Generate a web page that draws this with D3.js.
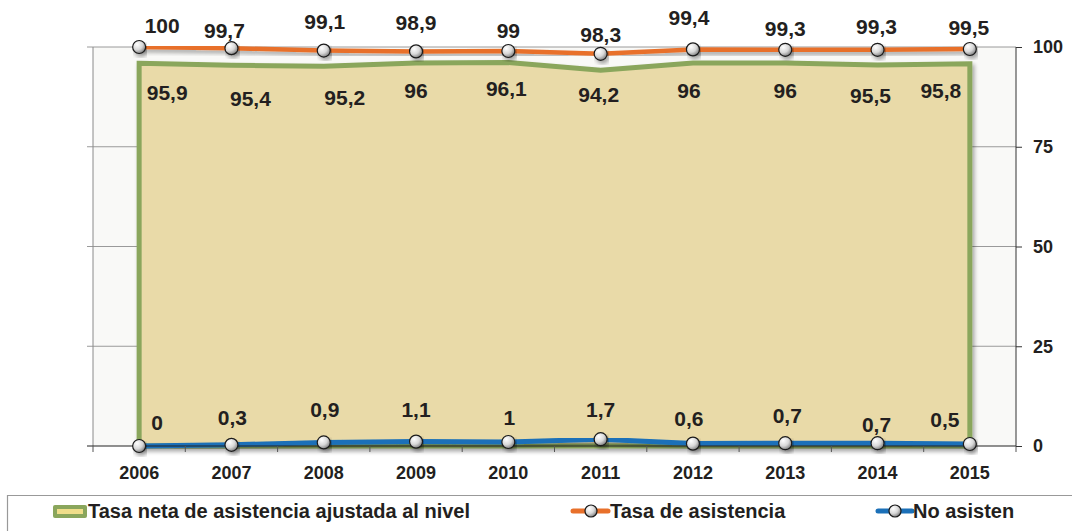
<!DOCTYPE html>
<html>
<head>
<meta charset="utf-8">
<script src="https://cdn.jsdelivr.net/npm/d3@7/dist/d3.min.js"></script>
<style>
  html, body { margin: 0; padding: 0; background: #ffffff; }
  svg { display: block; font-family: "Liberation Sans", Arial, sans-serif; }
</style>
</head>
<body>
<svg id="chart" width="1072" height="531"></svg>
<script>
// ---- data ----
const years = ["2006","2007","2008","2009","2010","2011","2012","2013","2014","2015"];
const tasaNeta = [95.9, 95.4, 95.2, 96, 96.1, 94.2, 96, 96, 95.5, 95.8];
const tasaAsistencia = [100, 99.7, 99.1, 98.9, 99, 98.3, 99.4, 99.3, 99.3, 99.5];
const noAsisten = [0, 0.3, 0.9, 1.1, 1, 1.7, 0.6, 0.7, 0.7, 0.5];
const yTicks = [0, 25, 50, 75, 100];
const seriesNames = ["Tasa neta de asistencia ajustada al nivel", "Tasa de asistencia", "No asisten"];

// ---- label layout (pixel offsets from points, manual label placement) ----
const asistLabelOff = [[23,-14],[-7,-10],[1,-22],[0,-21],[0,-13],[0,-12],[-4,-24],[0,-14],[-1,-16],[-1,-14]];
const netaLabelOff  = [[28,37],[19,41],[21,39],[0,35],[-2,33],[-2,32],[-4,35],[0,35],[-7,38],[-29,34]];
const noLabelOff    = [[18,-16],[1,-20],[1,-25],[0,-25],[1,-17],[0,-22],[-4,-18],[2,-20],[-1,-11],[-25,-17]];

const C = { orange: "#e8702a", blue: "#1b70b8", green: "#8aa65c", fill: "#e9daa8", text: "#231f20" };

const svg = d3.select("#chart");
const margin = { left: 93, right: 1016, top: 47, bottom: 446 };

const x = d3.scaleBand().domain(years).range([margin.left, margin.right]).paddingInner(0).paddingOuter(0);
const cx = d => x(d) + x.bandwidth() / 2;
const y = d3.scaleLinear().domain([0, 100]).range([margin.bottom, margin.top]);

const defs = svg.append("defs");
const rg = defs.append("radialGradient").attr("id", "mk").attr("cx", "35%").attr("cy", "30%").attr("r", "75%");
rg.append("stop").attr("offset", "0%").attr("stop-color", "#ffffff");
rg.append("stop").attr("offset", "55%").attr("stop-color", "#d8d8d8");
rg.append("stop").attr("offset", "100%").attr("stop-color", "#7a7a7a");
const sh = defs.append("filter").attr("id", "sh").attr("x", "-10%").attr("y", "-10%").attr("width", "120%").attr("height", "140%");
sh.append("feGaussianBlur").attr("in", "SourceAlpha").attr("stdDeviation", 2);
sh.append("feOffset").attr("dx", 2).attr("dy", 3).attr("result", "ob");
sh.append("feComponentTransfer").append("feFuncA").attr("type", "linear").attr("slope", 0.35);
const mg = sh.append("feMerge");
mg.append("feMergeNode");
mg.append("feMergeNode").attr("in", "SourceGraphic");

// plot background
svg.append("rect").attr("x", margin.left).attr("y", margin.top)
  .attr("width", margin.right - margin.left).attr("height", margin.bottom - margin.top)
  .attr("fill", "#f9f9f7");

// gridlines
svg.append("g").selectAll("line").data(yTicks.filter(t => t > 0)).join("line")
  .attr("x1", margin.left - 6).attr("x2", margin.right)
  .attr("y1", d => y(d)).attr("y2", d => y(d))
  .attr("stroke", "#9a9a9a").attr("stroke-width", 1);

// left axis line
svg.append("line").attr("x1", margin.left).attr("x2", margin.left)
  .attr("y1", margin.top).attr("y2", margin.bottom).attr("stroke", "#8a8a8a");

// area
const areaGen = d3.area().x((d, i) => cx(years[i])).y0(y(0)).y1(d => y(d));
svg.append("path").datum(tasaNeta).attr("d", areaGen)
  .attr("fill", C.fill).attr("stroke", C.green).attr("stroke-width", 5)
  .attr("stroke-linejoin", "miter").attr("filter", "url(#sh)");

// lines
const lineGen = d3.line().x((d, i) => cx(years[i])).y(d => y(d));
svg.append("path").datum(tasaAsistencia).attr("d", lineGen)
  .attr("fill", "none").attr("stroke", C.orange).attr("stroke-width", 4.5).attr("filter", "url(#sh)");
svg.append("path").datum(noAsisten).attr("d", lineGen)
  .attr("fill", "none").attr("stroke", C.blue).attr("stroke-width", 5).attr("filter", "url(#sh)");

// bottom axis
const xAxis = svg.append("g").attr("transform", `translate(0,${margin.bottom})`)
  .call(d3.axisBottom(x).tickSize(0).tickPadding(20));
xAxis.select(".domain").remove();
xAxis.append("line").attr("x1", margin.left - 6).attr("x2", margin.right).attr("y1", 0).attr("y2", 0)
  .attr("stroke", "#222").attr("stroke-width", 1);
xAxis.selectAll(".tick text").attr("font-size", 18).attr("font-weight", "bold").attr("fill", C.text)
  .attr("font-family", "Liberation Sans, Arial, sans-serif");
const bounds = years.map(d => x(d)).concat([margin.right]);
xAxis.selectAll("line.bt").data(bounds).join("line").attr("class", "bt")
  .attr("x1", d => d).attr("x2", d => d).attr("y1", 0).attr("y2", 6).attr("stroke", "#555");

// right axis
const yAxis = svg.append("g").attr("transform", `translate(${margin.right},0)`)
  .call(d3.axisRight(y).tickValues(yTicks).tickSize(6).tickPadding(11));
yAxis.select(".domain").attr("stroke", "#333").attr("d", `M0,${margin.top}V${margin.bottom}`);
yAxis.selectAll(".tick line").attr("stroke", "#333");
yAxis.selectAll(".tick text").attr("font-size", 18).attr("font-weight", "bold").attr("fill", C.text)
  .attr("font-family", "Liberation Sans, Arial, sans-serif");

// markers
function markers(vals) {
  svg.append("g").selectAll("circle").data(vals).join("circle")
    .attr("cx", (d, i) => cx(years[i])).attr("cy", d => y(d)).attr("r", 6.5)
    .attr("fill", "url(#mk)").attr("stroke", "#1a1a1a").attr("stroke-width", 1.2)
    .attr("filter", "url(#sh)");
}
markers(tasaAsistencia);
markers(noAsisten);

// data labels
const fmt = v => String(v).replace(".", ",");
function labels(vals, offs) {
  svg.append("g").selectAll("text").data(vals).join("text")
    .attr("x", (d, i) => cx(years[i]) + offs[i][0])
    .attr("y", (d, i) => y(d) + offs[i][1])
    .attr("text-anchor", "middle").attr("font-size", 21).attr("font-weight", "bold")
    .attr("fill", C.text).text(d => fmt(d));
}
labels(tasaAsistencia, asistLabelOff);
labels(tasaNeta, netaLabelOff);
labels(noAsisten, noLabelOff);

// legend
const lg = svg.append("g");
lg.append("path").attr("d", "M7.5,531V495.5H1072").attr("fill", "none").attr("stroke", "#999").attr("stroke-width", 1.2);
const ly = 518;
// item 1
lg.append("rect").attr("x", 53).attr("y", 505).attr("width", 34).attr("height", 13).attr("rx", 2).attr("fill", C.green);
lg.append("rect").attr("x", 57).attr("y", 509).attr("width", 26).attr("height", 5).attr("fill", "#f0de8a");
lg.append("text").attr("x", 88).attr("y", ly).attr("font-size", 20).attr("font-weight", "bold").attr("fill", C.text).text(seriesNames[0]);
// item 2
lg.append("line").attr("x1", 573).attr("x2", 608).attr("y1", 511).attr("y2", 511).attr("stroke", C.orange).attr("stroke-width", 5).attr("stroke-linecap", "round");
lg.append("circle").attr("cx", 591).attr("cy", 511).attr("r", 6).attr("fill", "url(#mk)").attr("stroke", "#1a1a1a").attr("stroke-width", 1.2);
lg.append("text").attr("x", 610).attr("y", ly).attr("font-size", 20).attr("font-weight", "bold").attr("fill", C.text).text(seriesNames[1]);
// item 3
lg.append("line").attr("x1", 878).attr("x2", 912).attr("y1", 511).attr("y2", 511).attr("stroke", C.blue).attr("stroke-width", 5).attr("stroke-linecap", "round");
lg.append("circle").attr("cx", 895).attr("cy", 511).attr("r", 6).attr("fill", "url(#mk)").attr("stroke", "#1a1a1a").attr("stroke-width", 1.2);
lg.append("text").attr("x", 913).attr("y", ly).attr("font-size", 20).attr("font-weight", "bold").attr("fill", C.text).text(seriesNames[2]);
</script>
</body>
</html>
